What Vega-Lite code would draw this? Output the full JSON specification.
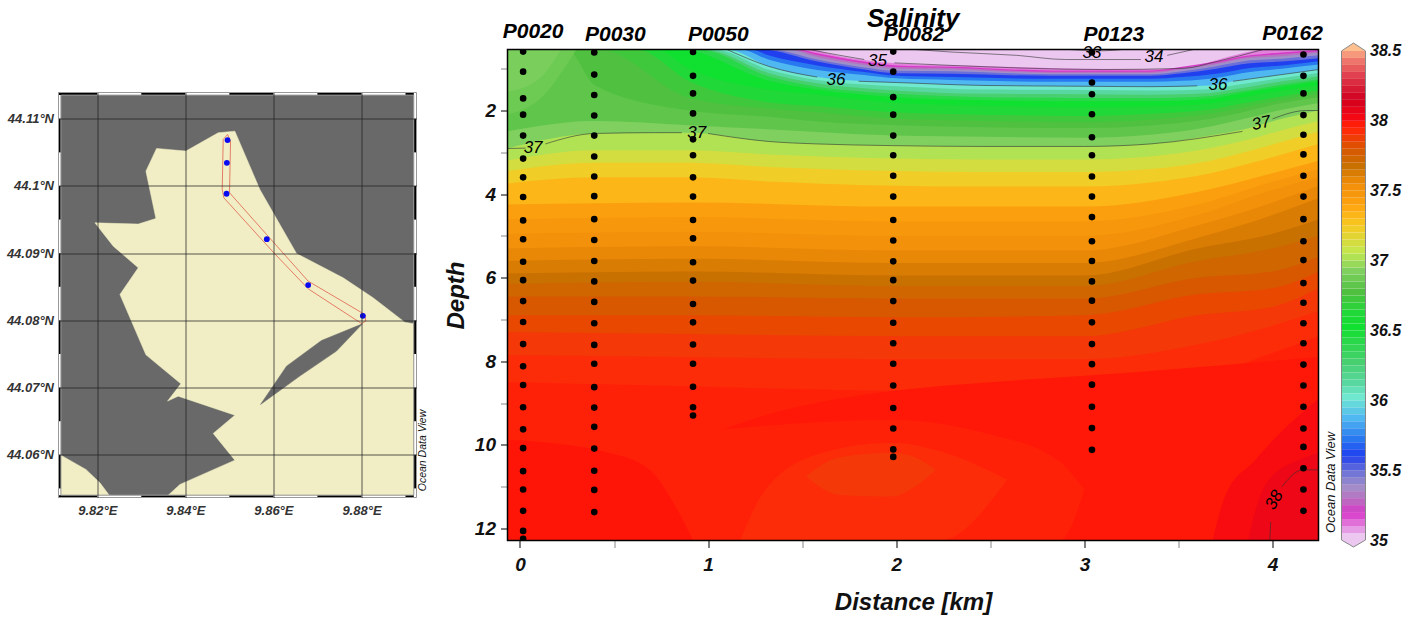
{"$schema":"https://vega.github.io/schema/vega-lite/v6.json","background":"white","padding":{"left":5.5,"top":5,"right":0,"bottom":0},"bounds":"flush","center":true,"spacing":23,
"config":{"view":{"stroke":null},"font":"Liberation Sans"},
"datasets":{
"iso":[
{"s":35,"x":-0.07,"d":0.54},{"s":35,"x":4.244,"d":0.54},
{"s":35.08,"x":-0.07,"d":0.54},{"s":35.08,"x":1.52,"d":0.54},{"s":35.08,"x":1.7,"d":0.7},{"s":35.08,"x":2,"d":0.87},{"s":35.08,"x":2.5,"d":0.94},{"s":35.08,"x":3,"d":1.0},{"s":35.08,"x":3.4,"d":1.01},{"s":35.08,"x":3.6,"d":0.92},{"s":35.08,"x":3.7,"d":0.8},{"s":35.08,"x":3.85,"d":0.62},{"s":35.08,"x":3.95,"d":0.54},{"s":35.08,"x":4.244,"d":0.54},
{"s":35.17,"x":-0.07,"d":0.54},{"s":35.17,"x":1.48,"d":0.54},{"s":35.17,"x":1.58,"d":0.63},{"s":35.17,"x":1.83,"d":0.83},{"s":35.17,"x":2,"d":0.92},{"s":35.17,"x":2.3,"d":0.95},{"s":35.17,"x":2.82,"d":1.04},{"s":35.17,"x":3.35,"d":1.04},{"s":35.17,"x":3.52,"d":0.95},{"s":35.17,"x":3.7,"d":0.83},{"s":35.17,"x":3.88,"d":0.68},{"s":35.17,"x":4.05,"d":0.61},{"s":35.17,"x":4.244,"d":0.55},
{"s":35.27,"x":-0.07,"d":0.54},{"s":35.27,"x":1.45,"d":0.54},{"s":35.27,"x":1.58,"d":0.67},{"s":35.27,"x":1.83,"d":0.87},{"s":35.27,"x":2,"d":0.96},{"s":35.27,"x":2.3,"d":0.98},{"s":35.27,"x":2.82,"d":1.07},{"s":35.27,"x":3.35,"d":1.07},{"s":35.27,"x":3.52,"d":0.98},{"s":35.27,"x":3.7,"d":0.86},{"s":35.27,"x":3.88,"d":0.71},{"s":35.27,"x":4.05,"d":0.65},{"s":35.27,"x":4.244,"d":0.58},
{"s":35.36,"x":-0.07,"d":0.54},{"s":35.36,"x":1.42,"d":0.54},{"s":35.36,"x":1.58,"d":0.72},{"s":35.36,"x":1.83,"d":0.91},{"s":35.36,"x":2,"d":1.0},{"s":35.36,"x":2.3,"d":1.02},{"s":35.36,"x":2.82,"d":1.1},{"s":35.36,"x":3.35,"d":1.1},{"s":35.36,"x":3.52,"d":1.01},{"s":35.36,"x":3.7,"d":0.89},{"s":35.36,"x":3.88,"d":0.74},{"s":35.36,"x":4.05,"d":0.7},{"s":35.36,"x":4.244,"d":0.62},
{"s":35.47,"x":-0.07,"d":0.54},{"s":35.47,"x":1.33,"d":0.54},{"s":35.47,"x":1.58,"d":0.78},{"s":35.47,"x":1.83,"d":0.97},{"s":35.47,"x":2,"d":1.05},{"s":35.47,"x":2.3,"d":1.06},{"s":35.47,"x":2.82,"d":1.13},{"s":35.47,"x":3.35,"d":1.13},{"s":35.47,"x":3.52,"d":1.06},{"s":35.47,"x":3.7,"d":0.94},{"s":35.47,"x":3.88,"d":0.8},{"s":35.47,"x":4.05,"d":0.76},{"s":35.47,"x":4.244,"d":0.68},
{"s":35.58,"x":-0.07,"d":0.54},{"s":35.58,"x":1.28,"d":0.54},{"s":35.58,"x":1.58,"d":0.83},{"s":35.58,"x":1.83,"d":1.02},{"s":35.58,"x":2,"d":1.11},{"s":35.58,"x":2.3,"d":1.12},{"s":35.58,"x":2.82,"d":1.17},{"s":35.58,"x":3.35,"d":1.17},{"s":35.58,"x":3.52,"d":1.11},{"s":35.58,"x":3.7,"d":1.0},{"s":35.58,"x":3.88,"d":0.87},{"s":35.58,"x":4.05,"d":0.83},{"s":35.58,"x":4.244,"d":0.75},
{"s":35.7,"x":-0.07,"d":0.54},{"s":35.7,"x":1.23,"d":0.54},{"s":35.7,"x":1.32,"d":0.68},{"s":35.7,"x":1.58,"d":0.92},{"s":35.7,"x":1.83,"d":1.08},{"s":35.7,"x":2,"d":1.17},{"s":35.7,"x":2.3,"d":1.2},{"s":35.7,"x":2.82,"d":1.24},{"s":35.7,"x":3.35,"d":1.24},{"s":35.7,"x":3.52,"d":1.2},{"s":35.7,"x":3.7,"d":1.12},{"s":35.7,"x":3.88,"d":0.98},{"s":35.7,"x":4.05,"d":0.92},{"s":35.7,"x":4.244,"d":0.82},
{"s":35.85,"x":-0.07,"d":0.54},{"s":35.85,"x":1.17,"d":0.54},{"s":35.85,"x":1.32,"d":0.78},{"s":35.85,"x":1.58,"d":1.03},{"s":35.85,"x":1.83,"d":1.15},{"s":35.85,"x":2,"d":1.23},{"s":35.85,"x":2.3,"d":1.27},{"s":35.85,"x":2.82,"d":1.31},{"s":35.85,"x":3.35,"d":1.31},{"s":35.85,"x":3.52,"d":1.29},{"s":35.85,"x":3.7,"d":1.22},{"s":35.85,"x":3.88,"d":1.08},{"s":35.85,"x":4.05,"d":1.0},{"s":35.85,"x":4.244,"d":0.9},
{"s":36,"x":-0.07,"d":0.54},{"s":36,"x":1.1,"d":0.54},{"s":36,"x":1.32,"d":0.94},{"s":36,"x":1.58,"d":1.2},{"s":36,"x":1.83,"d":1.3},{"s":36,"x":2,"d":1.33},{"s":36,"x":2.46,"d":1.4},{"s":36,"x":3,"d":1.42},{"s":36,"x":3.35,"d":1.43},{"s":36,"x":3.67,"d":1.4},{"s":36,"x":3.79,"d":1.3},{"s":36,"x":4.05,"d":1.14},{"s":36,"x":4.244,"d":1.02},
{"s":36.1,"x":-0.07,"d":0.54},{"s":36.1,"x":1.03,"d":0.54},{"s":36.1,"x":1.32,"d":1.02},{"s":36.1,"x":1.58,"d":1.27},{"s":36.1,"x":1.83,"d":1.38},{"s":36.1,"x":2,"d":1.42},{"s":36.1,"x":2.46,"d":1.5},{"s":36.1,"x":3,"d":1.51},{"s":36.1,"x":3.35,"d":1.52},{"s":36.1,"x":3.67,"d":1.49},{"s":36.1,"x":3.79,"d":1.4},{"s":36.1,"x":4.05,"d":1.22},{"s":36.1,"x":4.244,"d":1.1},
{"s":36.25,"x":-0.07,"d":0.54},{"s":36.25,"x":0.98,"d":0.54},{"s":36.25,"x":1.32,"d":1.1},{"s":36.25,"x":1.58,"d":1.35},{"s":36.25,"x":1.83,"d":1.47},{"s":36.25,"x":2,"d":1.52},{"s":36.25,"x":2.46,"d":1.6},{"s":36.25,"x":3,"d":1.61},{"s":36.25,"x":3.35,"d":1.62},{"s":36.25,"x":3.67,"d":1.58},{"s":36.25,"x":3.79,"d":1.5},{"s":36.25,"x":4.05,"d":1.3},{"s":36.25,"x":4.244,"d":1.18},
{"s":36.4,"x":-0.07,"d":0.54},{"s":36.4,"x":0.95,"d":0.54},{"s":36.4,"x":1.32,"d":1.18},{"s":36.4,"x":1.58,"d":1.43},{"s":36.4,"x":1.83,"d":1.55},{"s":36.4,"x":2,"d":1.6},{"s":36.4,"x":2.46,"d":1.68},{"s":36.4,"x":3,"d":1.7},{"s":36.4,"x":3.35,"d":1.7},{"s":36.4,"x":3.67,"d":1.65},{"s":36.4,"x":3.79,"d":1.57},{"s":36.4,"x":4.05,"d":1.38},{"s":36.4,"x":4.244,"d":1.25},
{"s":36.5,"x":-0.07,"d":0.54},{"s":36.5,"x":0.85,"d":0.54},{"s":36.5,"x":1.32,"d":1.28},{"s":36.5,"x":1.58,"d":1.5},{"s":36.5,"x":2,"d":1.68},{"s":36.5,"x":2.46,"d":1.75},{"s":36.5,"x":3,"d":1.78},{"s":36.5,"x":3.35,"d":1.78},{"s":36.5,"x":3.67,"d":1.72},{"s":36.5,"x":3.79,"d":1.62},{"s":36.5,"x":4.05,"d":1.43},{"s":36.5,"x":4.244,"d":1.3},
{"s":36.6,"x":-0.07,"d":0.54},{"s":36.6,"x":0.72,"d":0.54},{"s":36.6,"x":0.9,"d":1.0},{"s":36.6,"x":1.32,"d":1.5},{"s":36.6,"x":1.6,"d":1.63},{"s":36.6,"x":2,"d":1.82},{"s":36.6,"x":2.46,"d":1.88},{"s":36.6,"x":3,"d":1.92},{"s":36.6,"x":3.35,"d":1.9},{"s":36.6,"x":3.67,"d":1.83},{"s":36.6,"x":3.85,"d":1.68},{"s":36.6,"x":4.05,"d":1.52},{"s":36.6,"x":4.244,"d":1.4},
{"s":36.7,"x":-0.07,"d":0.54},{"s":36.7,"x":0.62,"d":0.54},{"s":36.7,"x":0.9,"d":1.3},{"s":36.7,"x":1.32,"d":1.8},{"s":36.7,"x":1.6,"d":1.9},{"s":36.7,"x":2,"d":2.05},{"s":36.7,"x":2.46,"d":2.1},{"s":36.7,"x":3,"d":2.13},{"s":36.7,"x":3.35,"d":2.08},{"s":36.7,"x":3.67,"d":1.97},{"s":36.7,"x":3.85,"d":1.82},{"s":36.7,"x":4.05,"d":1.66},{"s":36.7,"x":4.244,"d":1.52},
{"s":36.75,"x":-0.07,"d":0.54},{"s":36.75,"x":0.42,"d":0.54},{"s":36.75,"x":0.9,"d":1.7},{"s":36.75,"x":1.32,"d":1.95},{"s":36.75,"x":1.6,"d":2.05},{"s":36.75,"x":2,"d":2.2},{"s":36.75,"x":2.46,"d":2.25},{"s":36.75,"x":3,"d":2.28},{"s":36.75,"x":3.35,"d":2.22},{"s":36.75,"x":3.67,"d":2.08},{"s":36.75,"x":3.85,"d":1.92},{"s":36.75,"x":4.05,"d":1.74},{"s":36.75,"x":4.244,"d":1.6},
{"s":36.8,"x":-0.07,"d":0.54},{"s":36.8,"x":0.25,"d":0.54},{"s":36.8,"x":0.4,"d":1.4},{"s":36.8,"x":0.9,"d":2.0},{"s":36.8,"x":1.32,"d":2.15},{"s":36.8,"x":1.6,"d":2.27},{"s":36.8,"x":2,"d":2.35},{"s":36.8,"x":2.46,"d":2.4},{"s":36.8,"x":3,"d":2.42},{"s":36.8,"x":3.35,"d":2.36},{"s":36.8,"x":3.67,"d":2.2},{"s":36.8,"x":3.85,"d":2.03},{"s":36.8,"x":4.05,"d":1.82},{"s":36.8,"x":4.244,"d":1.68},
{"s":36.9,"x":-0.07,"d":2.5},{"s":36.9,"x":0.4,"d":2.25},{"s":36.9,"x":0.9,"d":2.35},{"s":36.9,"x":1.32,"d":2.45},{"s":36.9,"x":1.6,"d":2.52},{"s":36.9,"x":2,"d":2.6},{"s":36.9,"x":2.46,"d":2.63},{"s":36.9,"x":3,"d":2.65},{"s":36.9,"x":3.35,"d":2.58},{"s":36.9,"x":3.67,"d":2.38},{"s":36.9,"x":3.85,"d":2.2},{"s":36.9,"x":4.05,"d":1.98},{"s":36.9,"x":4.244,"d":1.82},
{"s":37,"x":-0.07,"d":2.91},{"s":37,"x":0.4,"d":2.55},{"s":37,"x":0.9,"d":2.53},{"s":37,"x":1.32,"d":2.74},{"s":37,"x":1.6,"d":2.8},{"s":37,"x":2,"d":2.84},{"s":37,"x":2.46,"d":2.86},{"s":37,"x":3,"d":2.86},{"s":37,"x":3.35,"d":2.8},{"s":37,"x":3.67,"d":2.6},{"s":37,"x":3.85,"d":2.45},{"s":37,"x":4.05,"d":2.2},{"s":37,"x":4.244,"d":2.0},
{"s":37.1,"x":-0.07,"d":3.2},{"s":37.1,"x":0.4,"d":2.95},{"s":37.1,"x":0.9,"d":2.95},{"s":37.1,"x":1.32,"d":3.05},{"s":37.1,"x":1.6,"d":3.1},{"s":37.1,"x":2,"d":3.15},{"s":37.1,"x":2.46,"d":3.17},{"s":37.1,"x":3,"d":3.17},{"s":37.1,"x":3.35,"d":3.1},{"s":37.1,"x":3.67,"d":2.9},{"s":37.1,"x":3.85,"d":2.72},{"s":37.1,"x":4.05,"d":2.47},{"s":37.1,"x":4.244,"d":2.25},
{"s":37.2,"x":-0.07,"d":3.45},{"s":37.2,"x":0.4,"d":3.25},{"s":37.2,"x":0.9,"d":3.25},{"s":37.2,"x":1.32,"d":3.35},{"s":37.2,"x":1.6,"d":3.4},{"s":37.2,"x":2,"d":3.45},{"s":37.2,"x":2.46,"d":3.47},{"s":37.2,"x":3,"d":3.47},{"s":37.2,"x":3.35,"d":3.4},{"s":37.2,"x":3.67,"d":3.2},{"s":37.2,"x":3.85,"d":3.0},{"s":37.2,"x":4.05,"d":2.75},{"s":37.2,"x":4.244,"d":2.5},
{"s":37.3,"x":-0.07,"d":3.75},{"s":37.3,"x":0.4,"d":3.6},{"s":37.3,"x":0.9,"d":3.6},{"s":37.3,"x":1.32,"d":3.7},{"s":37.3,"x":1.6,"d":3.75},{"s":37.3,"x":2,"d":3.8},{"s":37.3,"x":2.46,"d":3.82},{"s":37.3,"x":3,"d":3.82},{"s":37.3,"x":3.35,"d":3.72},{"s":37.3,"x":3.67,"d":3.5},{"s":37.3,"x":3.85,"d":3.3},{"s":37.3,"x":4.05,"d":3.05},{"s":37.3,"x":4.244,"d":2.8},
{"s":37.4,"x":-0.07,"d":4.25},{"s":37.4,"x":0.9,"d":4.2},{"s":37.4,"x":2,"d":4.3},{"s":37.4,"x":3,"d":4.3},{"s":37.4,"x":3.6,"d":3.95},{"s":37.4,"x":4,"d":3.5},{"s":37.4,"x":4.244,"d":3.2},
{"s":37.45,"x":-0.07,"d":4.6},{"s":37.45,"x":0.9,"d":4.55},{"s":37.45,"x":2,"d":4.65},{"s":37.45,"x":3,"d":4.65},{"s":37.45,"x":3.6,"d":4.25},{"s":37.45,"x":4,"d":3.7},{"s":37.45,"x":4.244,"d":3.4},
{"s":37.5,"x":-0.07,"d":4.95},{"s":37.5,"x":0.9,"d":4.9},{"s":37.5,"x":2,"d":5.0},{"s":37.5,"x":3,"d":5.0},{"s":37.5,"x":3.6,"d":4.5},{"s":37.5,"x":4,"d":3.9},{"s":37.5,"x":4.244,"d":3.6},
{"s":37.55,"x":-0.07,"d":5.3},{"s":37.55,"x":0.9,"d":5.25},{"s":37.55,"x":2,"d":5.35},{"s":37.55,"x":3,"d":5.35},{"s":37.55,"x":3.6,"d":4.75},{"s":37.55,"x":4,"d":4.2},{"s":37.55,"x":4.244,"d":3.8},
{"s":37.6,"x":-0.07,"d":5.6},{"s":37.6,"x":0.9,"d":5.55},{"s":37.6,"x":2,"d":5.65},{"s":37.6,"x":3,"d":5.65},{"s":37.6,"x":3.6,"d":5.05},{"s":37.6,"x":4,"d":4.5},{"s":37.6,"x":4.244,"d":4.1},
{"s":37.65,"x":-0.07,"d":5.9},{"s":37.65,"x":0.9,"d":5.85},{"s":37.65,"x":2,"d":5.95},{"s":37.65,"x":3,"d":5.95},{"s":37.65,"x":3.6,"d":5.3},{"s":37.65,"x":4,"d":4.95},{"s":37.65,"x":4.244,"d":4.6},
{"s":37.7,"x":-0.07,"d":6.15},{"s":37.7,"x":0.9,"d":6.1},{"s":37.7,"x":2,"d":6.2},{"s":37.7,"x":3,"d":6.2},{"s":37.7,"x":3.6,"d":5.6},{"s":37.7,"x":4,"d":5.3},{"s":37.7,"x":4.244,"d":5.0},
{"s":37.77,"x":-0.07,"d":6.45},{"s":37.77,"x":0.9,"d":6.45},{"s":37.77,"x":2,"d":6.5},{"s":37.77,"x":3,"d":6.5},{"s":37.77,"x":3.6,"d":6.0},{"s":37.77,"x":4,"d":5.85},{"s":37.77,"x":4.244,"d":5.5},
{"s":37.82,"x":-0.07,"d":6.9},{"s":37.82,"x":0.9,"d":6.9},{"s":37.82,"x":2,"d":6.95},{"s":37.82,"x":3,"d":6.9},{"s":37.82,"x":3.6,"d":6.4},{"s":37.82,"x":4,"d":6.25},{"s":37.82,"x":4.244,"d":5.85},
{"s":37.87,"x":-0.07,"d":7.3},{"s":37.87,"x":0.9,"d":7.35},{"s":37.87,"x":2,"d":7.4},{"s":37.87,"x":3,"d":7.4},{"s":37.87,"x":3.6,"d":6.9},{"s":37.87,"x":4,"d":6.7},{"s":37.87,"x":4.244,"d":6.25},
{"s":37.9,"x":-0.07,"d":7.85},{"s":37.9,"x":0.9,"d":7.9},{"s":37.9,"x":2,"d":7.95},{"s":37.9,"x":3,"d":7.95},{"s":37.9,"x":3.6,"d":7.6},{"s":37.9,"x":4,"d":7.15},{"s":37.9,"x":4.244,"d":6.8},
{"s":37.94,"x":-0.07,"d":8.5},{"s":37.94,"x":0.9,"d":8.6},{"s":37.94,"x":2,"d":8.7},{"s":37.94,"x":3,"d":8.6},{"s":37.94,"x":3.6,"d":8.4},{"s":37.94,"x":4,"d":7.8},{"s":37.94,"x":4.244,"d":7.4}
],
"patch":[
{"p":"a","s":36.84,"x":-0.07,"d":0.54,"d2":2.1},{"p":"a","s":36.84,"x":0.1,"d":0.54,"d2":1.75},{"p":"a","s":36.84,"x":0.3,"d":0.54,"d2":0.54},
{"p":"b","s":36.88,"x":-0.07,"d":0.54,"d2":1.55},{"p":"b","s":36.88,"x":0.1,"d":0.54,"d2":1.25},{"p":"b","s":36.88,"x":0.22,"d":0.54,"d2":0.54},
{"p":"c","s":37.97,"x":-0.07,"d":9.88,"d2":12.29},{"p":"c","s":37.97,"x":0.48,"d":10.2,"d2":12.29},{"p":"c","s":37.97,"x":0.69,"d":10.6,"d2":12.29},{"p":"c","s":37.97,"x":0.83,"d":11.5,"d2":12.29},{"p":"c","s":37.97,"x":0.92,"d":12.29,"d2":12.29},
{"p":"d","s":37.96,"x":0.92,"d":9.9,"d2":9.9},{"p":"d","s":37.96,"x":1.3,"d":9.3,"d2":12.29},{"p":"d","s":37.96,"x":2,"d":8.7,"d2":12.29},{"p":"d","s":37.96,"x":2.5,"d":8.5,"d2":12.29},{"p":"d","s":37.96,"x":3,"d":8.35,"d2":12.29},{"p":"d","s":37.96,"x":4.244,"d":7.9,"d2":12.29},
{"p":"e","s":37.94,"x":0.92,"d":9.7,"d2":12.29},{"p":"e","s":37.94,"x":1.98,"d":9.4,"d2":12.29},{"p":"e","s":37.94,"x":2.5,"d":9.75,"d2":12.29},{"p":"e","s":37.94,"x":2.8,"d":10.2,"d2":12.29},{"p":"e","s":37.94,"x":2.87,"d":10.4,"d2":12.29},{"p":"e","s":37.94,"x":3.0,"d":11.07,"d2":11.07},
{"p":"f","s":37.9,"x":1.17,"d":12.29,"d2":12.29},{"p":"f","s":37.9,"x":1.3,"d":11.1,"d2":12.29},{"p":"f","s":37.9,"x":1.6,"d":10.2,"d2":12.29},{"p":"f","s":37.9,"x":1.98,"d":9.95,"d2":12.29},{"p":"f","s":37.9,"x":2.23,"d":10.15,"d2":12.29},{"p":"f","s":37.9,"x":2.59,"d":10.83,"d2":10.83},
{"p":"g","s":37.87,"x":1.52,"d":10.75,"d2":10.75},{"p":"g","s":37.87,"x":1.7,"d":10.3,"d2":11.2},{"p":"g","s":37.87,"x":1.98,"d":10.19,"d2":11.24},{"p":"g","s":37.87,"x":2.1,"d":10.3,"d2":11.0},{"p":"g","s":37.87,"x":2.21,"d":10.6,"d2":10.6},
{"p":"h","s":37.99,"x":3.68,"d":12.29,"d2":12.29},{"p":"h","s":37.99,"x":3.75,"d":11.2,"d2":12.29},{"p":"h","s":37.99,"x":3.9,"d":10.4,"d2":12.29},{"p":"h","s":37.99,"x":4,"d":9.9,"d2":12.29},{"p":"h","s":37.99,"x":4.244,"d":8.9,"d2":12.29},
{"p":"i","s":38.02,"x":3.87,"d":12.29,"d2":12.29},{"p":"i","s":38.02,"x":3.92,"d":11.4,"d2":12.29},{"p":"i","s":38.02,"x":3.97,"d":10.9,"d2":12.29},{"p":"i","s":38.02,"x":4.14,"d":10.36,"d2":12.29},{"p":"i","s":38.02,"x":4.244,"d":10.2,"d2":12.29}
],
"contour":[
{"c":"37a","x":-0.07,"d":2.91},{"c":"37a","x":0.03,"d":2.9},
{"c":"37b","x":0.135,"d":2.8},{"c":"37b","x":0.395,"d":2.55},{"c":"37b","x":0.72,"d":2.53},{"c":"37b","x":0.86,"d":2.53},
{"c":"37c","x":1.0,"d":2.55},{"c":"37c","x":1.32,"d":2.74},{"c":"37c","x":1.58,"d":2.8},{"c":"37c","x":1.98,"d":2.84},{"c":"37c","x":2.46,"d":2.86},{"c":"37c","x":3,"d":2.86},{"c":"37c","x":3.35,"d":2.8},{"c":"37c","x":3.84,"d":2.5},
{"c":"37d","x":4.0,"d":2.2},{"c":"37d","x":4.18,"d":2.0},{"c":"37d","x":4.244,"d":2.0},
{"c":"36a","x":1.1,"d":0.54},{"c":"36a","x":1.32,"d":0.94},{"c":"36a","x":1.58,"d":1.2},
{"c":"36b","x":1.8,"d":1.3},{"c":"36b","x":2,"d":1.33},{"c":"36b","x":2.46,"d":1.4},{"c":"36b","x":3,"d":1.42},{"c":"36b","x":3.35,"d":1.43},{"c":"36b","x":3.6,"d":1.41},
{"c":"36c","x":3.79,"d":1.3},{"c":"36c","x":4.05,"d":1.14},{"c":"36c","x":4.244,"d":1.02},
{"c":"35a","x":1.54,"d":0.54},{"c":"35a","x":1.7,"d":0.68},{"c":"35a","x":1.83,"d":0.78},
{"c":"35b","x":1.99,"d":0.86},{"c":"35b","x":2.29,"d":0.92},{"c":"35b","x":3.1,"d":1.02},{"c":"35b","x":3.53,"d":0.99},{"c":"35b","x":3.7,"d":0.83},{"c":"35b","x":3.95,"d":0.54},
{"c":"34a","x":2.1,"d":0.54},{"c":"34a","x":2.29,"d":0.6},{"c":"34a","x":2.64,"d":0.68},{"c":"34a","x":2.9,"d":0.78},{"c":"34a","x":3.3,"d":0.78},
{"c":"34b","x":3.44,"d":0.68},{"c":"34b","x":3.58,"d":0.54},
{"c":"33","x":2.92,"d":0.54},{"c":"33","x":3.0,"d":0.56},{"c":"33","x":3.1,"d":0.57},{"c":"33","x":3.2,"d":0.54},
{"c":"38a","x":3.985,"d":12.29},{"c":"38a","x":3.99,"d":11.85},
{"c":"38b","x":4.05,"d":11.0},{"c":"38b","x":4.16,"d":10.6},{"c":"38b","x":4.244,"d":10.6}
],
"stn":[
{"x":0.017,"d":0.59},{"x":0.017,"d":1.07},{"x":0.017,"d":1.71},{"x":0.017,"d":2.1},{"x":0.017,"d":2.6},{"x":0.017,"d":3.15},{"x":0.017,"d":3.6},{"x":0.017,"d":4.07},{"x":0.017,"d":4.63},{"x":0.017,"d":5.08},{"x":0.017,"d":5.62},{"x":0.017,"d":6.06},{"x":0.017,"d":6.56},{"x":0.017,"d":7.06},{"x":0.017,"d":7.59},{"x":0.017,"d":8.12},{"x":0.017,"d":8.57},{"x":0.017,"d":9.1},{"x":0.017,"d":9.63},{"x":0.017,"d":10.08},{"x":0.017,"d":10.63},{"x":0.017,"d":11.07},{"x":0.017,"d":11.58},{"x":0.017,"d":12.06},{"x":0.017,"d":12.25},
{"x":0.395,"d":0.61},{"x":0.395,"d":1.14},{"x":0.395,"d":1.63},{"x":0.395,"d":2.12},{"x":0.395,"d":2.6},{"x":0.395,"d":3.1},{"x":0.395,"d":3.58},{"x":0.395,"d":4.05},{"x":0.395,"d":4.6},{"x":0.395,"d":5.1},{"x":0.395,"d":5.6},{"x":0.395,"d":6.09},{"x":0.395,"d":6.58},{"x":0.395,"d":7.09},{"x":0.395,"d":7.61},{"x":0.395,"d":8.06},{"x":0.395,"d":8.62},{"x":0.395,"d":9.11},{"x":0.395,"d":9.57},{"x":0.395,"d":10.09},{"x":0.395,"d":10.62},{"x":0.395,"d":11.08},{"x":0.395,"d":11.61},
{"x":0.92,"d":0.6},{"x":0.92,"d":1.17},{"x":0.92,"d":1.59},{"x":0.92,"d":2.07},{"x":0.92,"d":2.69},{"x":0.92,"d":3.07},{"x":0.92,"d":3.6},{"x":0.92,"d":4.06},{"x":0.92,"d":4.62},{"x":0.92,"d":5.06},{"x":0.92,"d":5.63},{"x":0.92,"d":6.07},{"x":0.92,"d":6.63},{"x":0.92,"d":7.07},{"x":0.92,"d":7.6},{"x":0.92,"d":8.06},{"x":0.92,"d":8.61},{"x":0.92,"d":9.1},{"x":0.92,"d":9.3},
{"x":1.984,"d":0.59},{"x":1.984,"d":1.07},{"x":1.984,"d":1.68},{"x":1.984,"d":2.1},{"x":1.984,"d":2.6},{"x":1.984,"d":3.07},{"x":1.984,"d":3.56},{"x":1.984,"d":4.06},{"x":1.984,"d":4.62},{"x":1.984,"d":5.11},{"x":1.984,"d":5.61},{"x":1.984,"d":6.06},{"x":1.984,"d":6.56},{"x":1.984,"d":7.08},{"x":1.984,"d":7.57},{"x":1.984,"d":8.06},{"x":1.984,"d":8.58},{"x":1.984,"d":9.12},{"x":1.984,"d":9.61},{"x":1.984,"d":10.11},{"x":1.984,"d":10.29},
{"x":3.04,"d":0.61},{"x":3.04,"d":1.33},{"x":3.04,"d":1.61},{"x":3.04,"d":2.09},{"x":3.04,"d":2.64},{"x":3.04,"d":3.07},{"x":3.04,"d":3.58},{"x":3.04,"d":4.06},{"x":3.04,"d":4.55},{"x":3.04,"d":5.13},{"x":3.04,"d":5.6},{"x":3.04,"d":6.09},{"x":3.04,"d":6.55},{"x":3.04,"d":7.07},{"x":3.04,"d":7.59},{"x":3.04,"d":8.07},{"x":3.04,"d":8.56},{"x":3.04,"d":9.09},{"x":3.04,"d":9.6},{"x":3.04,"d":10.12},
{"x":4.164,"d":0.66},{"x":4.164,"d":1.17},{"x":4.164,"d":1.59},{"x":4.164,"d":2.11},{"x":4.164,"d":2.58},{"x":4.164,"d":3.05},{"x":4.164,"d":3.56},{"x":4.164,"d":4.06},{"x":4.164,"d":4.6},{"x":4.164,"d":5.13},{"x":4.164,"d":5.58},{"x":4.164,"d":6.13},{"x":4.164,"d":6.6},{"x":4.164,"d":7.09},{"x":4.164,"d":7.57},{"x":4.164,"d":8.08},{"x":4.164,"d":8.58},{"x":4.164,"d":9.09},{"x":4.164,"d":9.61},{"x":4.164,"d":10.05},{"x":4.164,"d":10.56},{"x":4.164,"d":11.07},{"x":4.164,"d":11.58}
],
"lands":[
{"g":"main","i":1,"lon":9.85125,"lat":44.10816},{"g":"main","i":2,"lon":9.85693,"lat":44.09948},{"g":"main","i":3,"lon":9.85995,"lat":44.09601},{"g":"main","i":4,"lon":9.86525,"lat":44.08996},{"g":"main","i":5,"lon":9.87584,"lat":44.08634},{"g":"main","i":6,"lon":9.88265,"lat":44.08336},{"g":"main","i":7,"lon":9.88984,"lat":44.07974},{"g":"main","i":8,"lon":9.89188,"lat":44.07949},{"g":"main","i":9,"lon":9.89188,"lat":44.054},{"g":"main","i":10,"lon":9.83612,"lat":44.054},{"g":"main","i":11,"lon":9.83877,"lat":44.05559},{"g":"main","i":12,"lon":9.85125,"lat":44.05921},{"g":"main","i":13,"lon":9.84633,"lat":44.06318},{"g":"main","i":14,"lon":9.85125,"lat":44.0659},{"g":"main","i":15,"lon":9.83839,"lat":44.06873},{"g":"main","i":16,"lon":9.83597,"lat":44.06799},{"g":"main","i":17,"lon":9.83899,"lat":44.07057},{"g":"main","i":18,"lon":9.83105,"lat":44.07488},{"g":"main","i":19,"lon":9.82515,"lat":44.08386},{"g":"main","i":20,"lon":9.82931,"lat":44.08783},{"g":"main","i":21,"lon":9.82363,"lat":44.09105},{"g":"main","i":22,"lon":9.81947,"lat":44.09452},{"g":"main","i":23,"lon":9.82931,"lat":44.09433},{"g":"main","i":24,"lon":9.83332,"lat":44.09517},{"g":"main","i":25,"lon":9.83105,"lat":44.10221},{"g":"main","i":26,"lon":9.83347,"lat":44.10559},{"g":"main","i":27,"lon":9.84013,"lat":44.10519},{"g":"main","i":28,"lon":9.84747,"lat":44.10792},{"g":"main","i":29,"lon":9.85125,"lat":44.10816},
{"g":"sw","i":1,"lon":9.81175,"lat":44.05995},{"g":"sw","i":2,"lon":9.81743,"lat":44.05782},{"g":"sw","i":3,"lon":9.82061,"lat":44.05583},{"g":"sw","i":4,"lon":9.82272,"lat":44.054},{"g":"sw","i":5,"lon":9.81175,"lat":44.054},{"g":"sw","i":6,"lon":9.81175,"lat":44.05995}
],
"island":[
{"i":1,"lon":9.88023,"lat":44.07949},{"i":2,"lon":9.87433,"lat":44.07543},{"i":3,"lon":9.866,"lat":44.07171},{"i":4,"lon":9.85708,"lat":44.06749},{"i":5,"lon":9.86298,"lat":44.07319},{"i":6,"lon":9.87092,"lat":44.07701},{"i":7,"lon":9.88023,"lat":44.07949}
],
"strips":[
{"lon":9.8112,"lon2":9.82,"lat":44.11352,"lat2":44.11391},{"lon":9.83,"lon2":9.84,"lat":44.11352,"lat2":44.11391},{"lon":9.85,"lon2":9.86,"lat":44.11352,"lat2":44.11391},{"lon":9.87,"lon2":9.88,"lat":44.11352,"lat2":44.11391},{"lon":9.89,"lon2":9.89188,"lat":44.11352,"lat2":44.11391},
{"lon":9.8112,"lon2":9.82,"lat":44.05365,"lat2":44.054},{"lon":9.83,"lon2":9.84,"lat":44.05365,"lat2":44.054},{"lon":9.85,"lon2":9.86,"lat":44.05365,"lat2":44.054},{"lon":9.87,"lon2":9.88,"lat":44.05365,"lat2":44.054},{"lon":9.89,"lon2":9.89188,"lat":44.05365,"lat2":44.054},
{"lon":9.8112,"lon2":9.81175,"lat":44.105,"lat2":44.11},{"lon":9.8112,"lon2":9.81175,"lat":44.095,"lat2":44.1},{"lon":9.8112,"lon2":9.81175,"lat":44.085,"lat2":44.09},{"lon":9.8112,"lon2":9.81175,"lat":44.075,"lat2":44.08},{"lon":9.8112,"lon2":9.81175,"lat":44.065,"lat2":44.07},{"lon":9.8112,"lon2":9.81175,"lat":44.055,"lat2":44.06},
{"lon":9.89188,"lon2":9.8925,"lat":44.105,"lat2":44.11},{"lon":9.89188,"lon2":9.8925,"lat":44.095,"lat2":44.1},{"lon":9.89188,"lon2":9.8925,"lat":44.085,"lat2":44.09},{"lon":9.89188,"lon2":9.8925,"lat":44.075,"lat2":44.08},{"lon":9.89188,"lon2":9.8925,"lat":44.065,"lat2":44.07},{"lon":9.89188,"lon2":9.8925,"lat":44.055,"lat2":44.06}
],
"track":[
{"i":1,"lon":9.84959,"lat":44.10767},{"i":2,"lon":9.85027,"lat":44.10668},{"i":3,"lon":9.85004,"lat":44.09899},{"i":4,"lon":9.85844,"lat":44.09279},{"i":5,"lon":9.8679,"lat":44.08584},{"i":6,"lon":9.88076,"lat":44.08088},{"i":7,"lon":9.88099,"lat":44.07989},{"i":8,"lon":9.88,"lat":44.07954},{"i":9,"lon":9.8679,"lat":44.0847},{"i":10,"lon":9.85995,"lat":44.09016},{"i":11,"lon":9.84875,"lat":44.09824},{"i":12,"lon":9.84838,"lat":44.09948},{"i":13,"lon":9.8486,"lat":44.10692},{"i":14,"lon":9.84959,"lat":44.10767}
],
"sites":[
{"lon":9.84959,"lat":44.10683},{"lon":9.84943,"lat":44.10345},{"lon":9.84936,"lat":44.09884},{"lon":9.85851,"lat":44.09209},{"lon":9.8679,"lat":44.08525},{"lon":9.88031,"lat":44.08068}
],
"bar":[
{"s":35,"s2":35.05},{"s":35.05,"s2":35.1},{"s":35.1,"s2":35.15},{"s":35.15,"s2":35.2},{"s":35.2,"s2":35.25},{"s":35.25,"s2":35.3},{"s":35.3,"s2":35.35},{"s":35.35,"s2":35.4},{"s":35.4,"s2":35.45},{"s":35.45,"s2":35.5},{"s":35.5,"s2":35.55},{"s":35.55,"s2":35.6},{"s":35.6,"s2":35.65},{"s":35.65,"s2":35.7},{"s":35.7,"s2":35.75},{"s":35.75,"s2":35.8},{"s":35.8,"s2":35.85},{"s":35.85,"s2":35.9},{"s":35.9,"s2":35.95},{"s":35.95,"s2":36},{"s":36,"s2":36.05},{"s":36.05,"s2":36.1},{"s":36.1,"s2":36.15},{"s":36.15,"s2":36.2},{"s":36.2,"s2":36.25},{"s":36.25,"s2":36.3},{"s":36.3,"s2":36.35},{"s":36.35,"s2":36.4},{"s":36.4,"s2":36.45},{"s":36.45,"s2":36.5},{"s":36.5,"s2":36.55},{"s":36.55,"s2":36.6},{"s":36.6,"s2":36.65},{"s":36.65,"s2":36.7},{"s":36.7,"s2":36.75},{"s":36.75,"s2":36.8},{"s":36.8,"s2":36.85},{"s":36.85,"s2":36.9},{"s":36.9,"s2":36.95},{"s":36.95,"s2":37},{"s":37,"s2":37.05},{"s":37.05,"s2":37.1},{"s":37.1,"s2":37.15},{"s":37.15,"s2":37.2},{"s":37.2,"s2":37.25},{"s":37.25,"s2":37.3},{"s":37.3,"s2":37.35},{"s":37.35,"s2":37.4},{"s":37.4,"s2":37.45},{"s":37.45,"s2":37.5},{"s":37.5,"s2":37.55},{"s":37.55,"s2":37.6},{"s":37.6,"s2":37.65},{"s":37.65,"s2":37.7},{"s":37.7,"s2":37.75},{"s":37.75,"s2":37.8},{"s":37.8,"s2":37.85},{"s":37.85,"s2":37.9},{"s":37.9,"s2":37.95},{"s":37.95,"s2":38},{"s":38,"s2":38.05},{"s":38.05,"s2":38.1},{"s":38.1,"s2":38.15},{"s":38.15,"s2":38.2},{"s":38.2,"s2":38.25},{"s":38.25,"s2":38.3},{"s":38.3,"s2":38.35},{"s":38.35,"s2":38.4},{"s":38.4,"s2":38.45},{"s":38.45,"s2":38.5}
],
"barEnd":[
{"e":"top","s":38.5,"u":0,"v":38.5,"v2":38.5},{"e":"top","s":38.5,"u":0.5,"v":38.5,"v2":38.557},{"e":"top","s":38.5,"u":1,"v":38.5,"v2":38.5},
{"e":"bot","s":35,"u":0,"v":35,"v2":35},{"e":"bot","s":35,"u":0.5,"v":34.95,"v2":35},{"e":"bot","s":35,"u":1,"v":35,"v2":35}
],
"barEdge":[
{"i":1,"u":0,"v":35},{"i":2,"u":0.5,"v":34.95},{"i":3,"u":1,"v":35},{"i":4,"u":1,"v":38.5},{"i":5,"u":0.5,"v":38.557},{"i":6,"u":0,"v":38.5},{"i":7,"u":0,"v":35}
]
},
"hconcat":[
{"width":358,"height":405,
"encoding":{
"x":{"field":"lon","type":"quantitative","title":null,"scale":{"domain":[9.8112,9.8925],"nice":false,"zero":false},"axis":{"values":[9.82,9.84,9.86,9.88],"labelExpr":"format(datum.value,'.2f')+'°E'","grid":true,"gridColor":"#222","gridOpacity":0.75,"gridWidth":1,"ticks":false,"domain":false,"zindex":1,"labelFont":"Liberation Sans","labelFontSize":13,"labelFontStyle":"italic","labelFontWeight":"bold","labelColor":"#333","labelPadding":7}},
"y":{"field":"lat","type":"quantitative","title":null,"scale":{"domain":[44.05365,44.11391],"nice":false,"zero":false},"axis":{"values":[44.06,44.07,44.08,44.09,44.1,44.11],"labelExpr":"datum.value+'°N'","grid":true,"gridColor":"#222","gridOpacity":0.75,"gridWidth":1,"ticks":false,"domain":false,"zindex":1,"labelFont":"Liberation Sans","labelFontSize":13,"labelFontStyle":"italic","labelFontWeight":"bold","labelColor":"#333","labelPadding":5}}
},
"layer":[
{"data":{"values":[{"lon":9.81175,"lon2":9.89188,"lat":44.054,"lat2":44.11352}]},"mark":{"type":"rect","fill":"#696969"},"encoding":{"x2":{"field":"lon2"},"y2":{"field":"lat2"}}},
{"data":{"name":"lands"},"mark":{"type":"line","fill":"#f1eec5","stroke":"#f1eec5","strokeWidth":0.5},"encoding":{"detail":{"field":"g"},"order":{"field":"i"}}},
{"data":{"name":"island"},"mark":{"type":"line","fill":"#696969","stroke":"#696969","strokeWidth":0.5},"encoding":{"order":{"field":"i"}}},
{"data":{"name":"strips"},"mark":{"type":"rect","fill":"#000"},"encoding":{"x2":{"field":"lon2"},"y2":{"field":"lat2"}}},
{"data":{"values":[{"lon":9.8112,"lon2":9.8925,"lat":44.05365,"lat2":44.11391},{"lon":9.81175,"lon2":9.89188,"lat":44.054,"lat2":44.11352}]},"mark":{"type":"rect","fill":null,"stroke":"#999","strokeWidth":1},"encoding":{"x2":{"field":"lon2"},"y2":{"field":"lat2"}}},
{"data":{"name":"track"},"mark":{"type":"line","stroke":"#e0604c","strokeWidth":0.8},"encoding":{"order":{"field":"i"}}},
{"data":{"name":"sites"},"mark":{"type":"circle","color":"#0a0af0","size":34,"opacity":1}},
{"data":{"values":[{"lon":9.8939,"lat":44.06064,"t":"Ocean Data View"}]},"mark":{"type":"text","angle":270,"fontSize":10.5,"font":"Liberation Sans","fontStyle":"italic","color":"#111"},"encoding":{"text":{"field":"t"}}}
]},
{"width":45,"height":10,"data":{"values":[]},"mark":"point"},
{"width":811,"height":491,
"encoding":{
"x":{"field":"x","type":"quantitative","title":"Distance [km]","scale":{"domain":[-0.066,4.244],"nice":false,"zero":false},"axis":{"values":[0,0.5,1,1.5,2,2.5,3,3.5,4],"labelExpr":"datum.value%1==0?''+datum.value:''","domain":false,"grid":false,"tickSize":7,"tickColor":{"condition":{"test":"datum.value%1==0","value":"#000"},"value":"#888"},"labelFont":"Liberation Sans","labelFontSize":19,"labelFontStyle":"italic","labelFontWeight":"bold","labelColor":"#111","labelPadding":8,"titleFont":"Liberation Sans","titleFontSize":24,"titleFontStyle":"italic","titleFontWeight":"bold","titleColor":"#111","titlePadding":16}},
"y":{"field":"d","type":"quantitative","stack":null,"title":"Depth","scale":{"domain":[0.54,12.29],"nice":false,"zero":false,"reverse":true},"axis":{"values":[1,2,3,4,5,6,7,8,9,10,11,12],"labelExpr":"datum.value%2==0?''+datum.value:''","domain":false,"grid":false,"tickSize":7,"tickColor":{"condition":{"test":"datum.value%2==0","value":"#000"},"value":"#888"},"labelFont":"Liberation Sans","labelFontSize":19,"labelFontStyle":"italic","labelFontWeight":"bold","labelColor":"#111","labelPadding":5,"titleFont":"Liberation Sans","titleFontSize":24,"titleFontStyle":"italic","titleFontWeight":"bold","titleColor":"#111","titlePadding":6}}
},
"layer":[
{"data":{"name":"iso"},"mark":{"type":"area","interpolate":"monotone","clip":true,"orient":"vertical"},"encoding":{"detail":{"field":"s"},"y2":{"datum":12.29},"color":{"field":"s","type":"quantitative","legend":null,"scale":{"domain":[35,35.1,35.17,35.27,35.36,35.47,35.58,35.7,35.85,36,36.1,36.25,36.4,36.5,36.6,36.75,36.9,37.03,37.23,37.37,37.53,37.65,37.77,37.82,37.87,37.9,37.94,37.97,38,38.13,38.3,38.42,38.5],"range":["#ecc8f0","#e070d8","#d838c8","#b870c0","#a090c8","#6a70d8","#2040f0","#2878f0","#50b8f0","#70e8d0","#58d8a0","#48d070","#28d848","#10e030","#20d838","#50c040","#80d060","#c0e850","#f8c820","#ffa410","#f08c08","#c87000","#d85800","#e84800","#f43808","#fc2c08","#ff2008","#ff1408","#f40814","#d00020","#e04050","#f08070","#ffc090"],"interpolate":"rgb"}}}},
{"data":{"name":"patch"},"mark":{"type":"area","interpolate":"monotone","clip":true,"orient":"vertical"},"encoding":{"detail":{"field":"p"},"y2":{"field":"d2"},"color":{"field":"s","type":"quantitative","legend":null,"scale":{"domain":[35,35.1,35.17,35.27,35.36,35.47,35.58,35.7,35.85,36,36.1,36.25,36.4,36.5,36.6,36.75,36.9,37.03,37.23,37.37,37.53,37.65,37.77,37.82,37.87,37.9,37.94,37.97,38,38.13,38.3,38.42,38.5],"range":["#ecc8f0","#e070d8","#d838c8","#b870c0","#a090c8","#6a70d8","#2040f0","#2878f0","#50b8f0","#70e8d0","#58d8a0","#48d070","#28d848","#10e030","#20d838","#50c040","#80d060","#c0e850","#f8c820","#ffa410","#f08c08","#c87000","#d85800","#e84800","#f43808","#fc2c08","#ff2008","#ff1408","#f40814","#d00020","#e04050","#f08070","#ffc090"],"interpolate":"rgb"}}}},
{"data":{"name":"contour"},"mark":{"type":"line","interpolate":"monotone","clip":true,"stroke":"#333","strokeWidth":0.7,"opacity":0.85},"encoding":{"detail":{"field":"c"}}},
{"data":{"name":"stn"},"mark":{"type":"circle","color":"#000","size":44,"opacity":1,"clip":true}},
{"data":{"values":[{"x":0.07,"d":2.89,"t":"37"},{"x":0.94,"d":2.55,"t":"37"},{"x":1.68,"d":1.28,"t":"36"},{"x":3.71,"d":1.38,"t":"36"},{"x":1.9,"d":0.82,"t":"35"},{"x":3.37,"d":0.73,"t":"34"},{"x":3.04,"d":0.63,"t":"33"}]},"mark":{"type":"text","font":"Liberation Sans","fontSize":17,"fontStyle":"italic","color":"#000"},"encoding":{"text":{"field":"t"}}},
{"data":{"values":[{"x":3.94,"d":2.31,"t":"37"}]},"mark":{"type":"text","font":"Liberation Sans","fontSize":17,"fontStyle":"italic","color":"#000","angle":348},"encoding":{"text":{"field":"t"}}},
{"data":{"values":[{"x":4.01,"d":11.32,"t":"38"}]},"mark":{"type":"text","font":"Liberation Sans","fontSize":17,"fontStyle":"italic","color":"#000","angle":300},"encoding":{"text":{"field":"t"}}},
{"data":{"values":[{"x":0.07,"d":0.13,"t":"P0020"},{"x":0.507,"d":0.2,"t":"P0030"},{"x":1.054,"d":0.2,"t":"P0050"},{"x":2.094,"d":0.2,"t":"P0082"},{"x":3.156,"d":0.2,"t":"P0123"},{"x":4.106,"d":0.17,"t":"P0162"}]},"mark":{"type":"text","font":"Liberation Sans","fontSize":21,"fontStyle":"italic","fontWeight":"bold","color":"#000"},"encoding":{"text":{"field":"t"}}},
{"data":{"values":[{"x":2.09,"d":-0.2,"t":"Salinity"}]},"mark":{"type":"text","font":"Liberation Sans","fontSize":26,"fontStyle":"italic","fontWeight":"bold","color":"#000"},"encoding":{"text":{"field":"t"}}},
{"data":{"values":[{"x":4.313,"d":10.9,"t":"Ocean Data View"}]},"mark":{"type":"text","angle":270,"font":"Liberation Sans","fontSize":13,"fontStyle":"italic","color":"#111"},"encoding":{"text":{"field":"t"}}},
{"data":{"values":[{"x":-0.066,"x2":4.244,"d":0.54,"d2":12.29}]},"mark":{"type":"rect","fill":null,"stroke":"#000","strokeWidth":1.5},"encoding":{"x2":{"field":"x2"},"y2":{"field":"d2"}}}
]},
{"width":24,"height":504,
"layer":[
{"data":{"name":"bar"},"mark":{"type":"rect"},"encoding":{
"x":{"datum":0,"type":"quantitative","scale":{"domain":[0,1],"nice":false,"zero":false},"axis":null},"x2":{"datum":1},
"y":{"field":"s","type":"quantitative","stack":null,"title":null,"scale":{"domain":[34.95,38.557],"nice":false,"zero":false},"axis":{"orient":"right","values":[35,35.5,36,36.5,37,37.5,38,38.5],"labelExpr":"''+datum.value","ticks":false,"domain":false,"grid":false,"labelFont":"Liberation Sans","labelFontSize":16,"labelFontStyle":"italic","labelFontWeight":"bold","labelColor":"#111","labelPadding":4}},"y2":{"field":"s2"},
"color":{"field":"s","type":"quantitative","legend":null,"scale":{"domain":[35,35.1,35.17,35.27,35.36,35.47,35.58,35.7,35.85,36,36.1,36.25,36.4,36.5,36.6,36.75,36.9,37.03,37.23,37.37,37.53,37.65,37.77,37.82,37.87,37.9,37.94,37.97,38,38.13,38.3,38.42,38.5],"range":["#ecc8f0","#e070d8","#d838c8","#b870c0","#a090c8","#6a70d8","#2040f0","#2878f0","#50b8f0","#70e8d0","#58d8a0","#48d070","#28d848","#10e030","#20d838","#50c040","#80d060","#c0e850","#f8c820","#ffa410","#f08c08","#c87000","#d85800","#e84800","#f43808","#fc2c08","#ff2008","#ff1408","#f40814","#d00020","#e04050","#f08070","#ffc090"],"interpolate":"rgb"}}}},
{"data":{"name":"barEnd"},"mark":{"type":"area","orient":"vertical"},"encoding":{
"x":{"field":"u","type":"quantitative"},"y":{"field":"v","type":"quantitative","stack":null},"y2":{"field":"v2"},"detail":{"field":"e"},
"color":{"field":"s","type":"quantitative","legend":null,"scale":{"domain":[35,35.1,35.17,35.27,35.36,35.47,35.58,35.7,35.85,36,36.1,36.25,36.4,36.5,36.6,36.75,36.9,37.03,37.23,37.37,37.53,37.65,37.77,37.82,37.87,37.9,37.94,37.97,38,38.13,38.3,38.42,38.5],"range":["#ecc8f0","#e070d8","#d838c8","#b870c0","#a090c8","#6a70d8","#2040f0","#2878f0","#50b8f0","#70e8d0","#58d8a0","#48d070","#28d848","#10e030","#20d838","#50c040","#80d060","#c0e850","#f8c820","#ffa410","#f08c08","#c87000","#d85800","#e84800","#f43808","#fc2c08","#ff2008","#ff1408","#f40814","#d00020","#e04050","#f08070","#ffc090"],"interpolate":"rgb"}}}},
{"data":{"name":"barEdge"},"mark":{"type":"line","stroke":"#888","strokeWidth":1},"encoding":{"x":{"field":"u","type":"quantitative"},"y":{"field":"v","type":"quantitative"},"order":{"field":"i"}}}
]}
]}
